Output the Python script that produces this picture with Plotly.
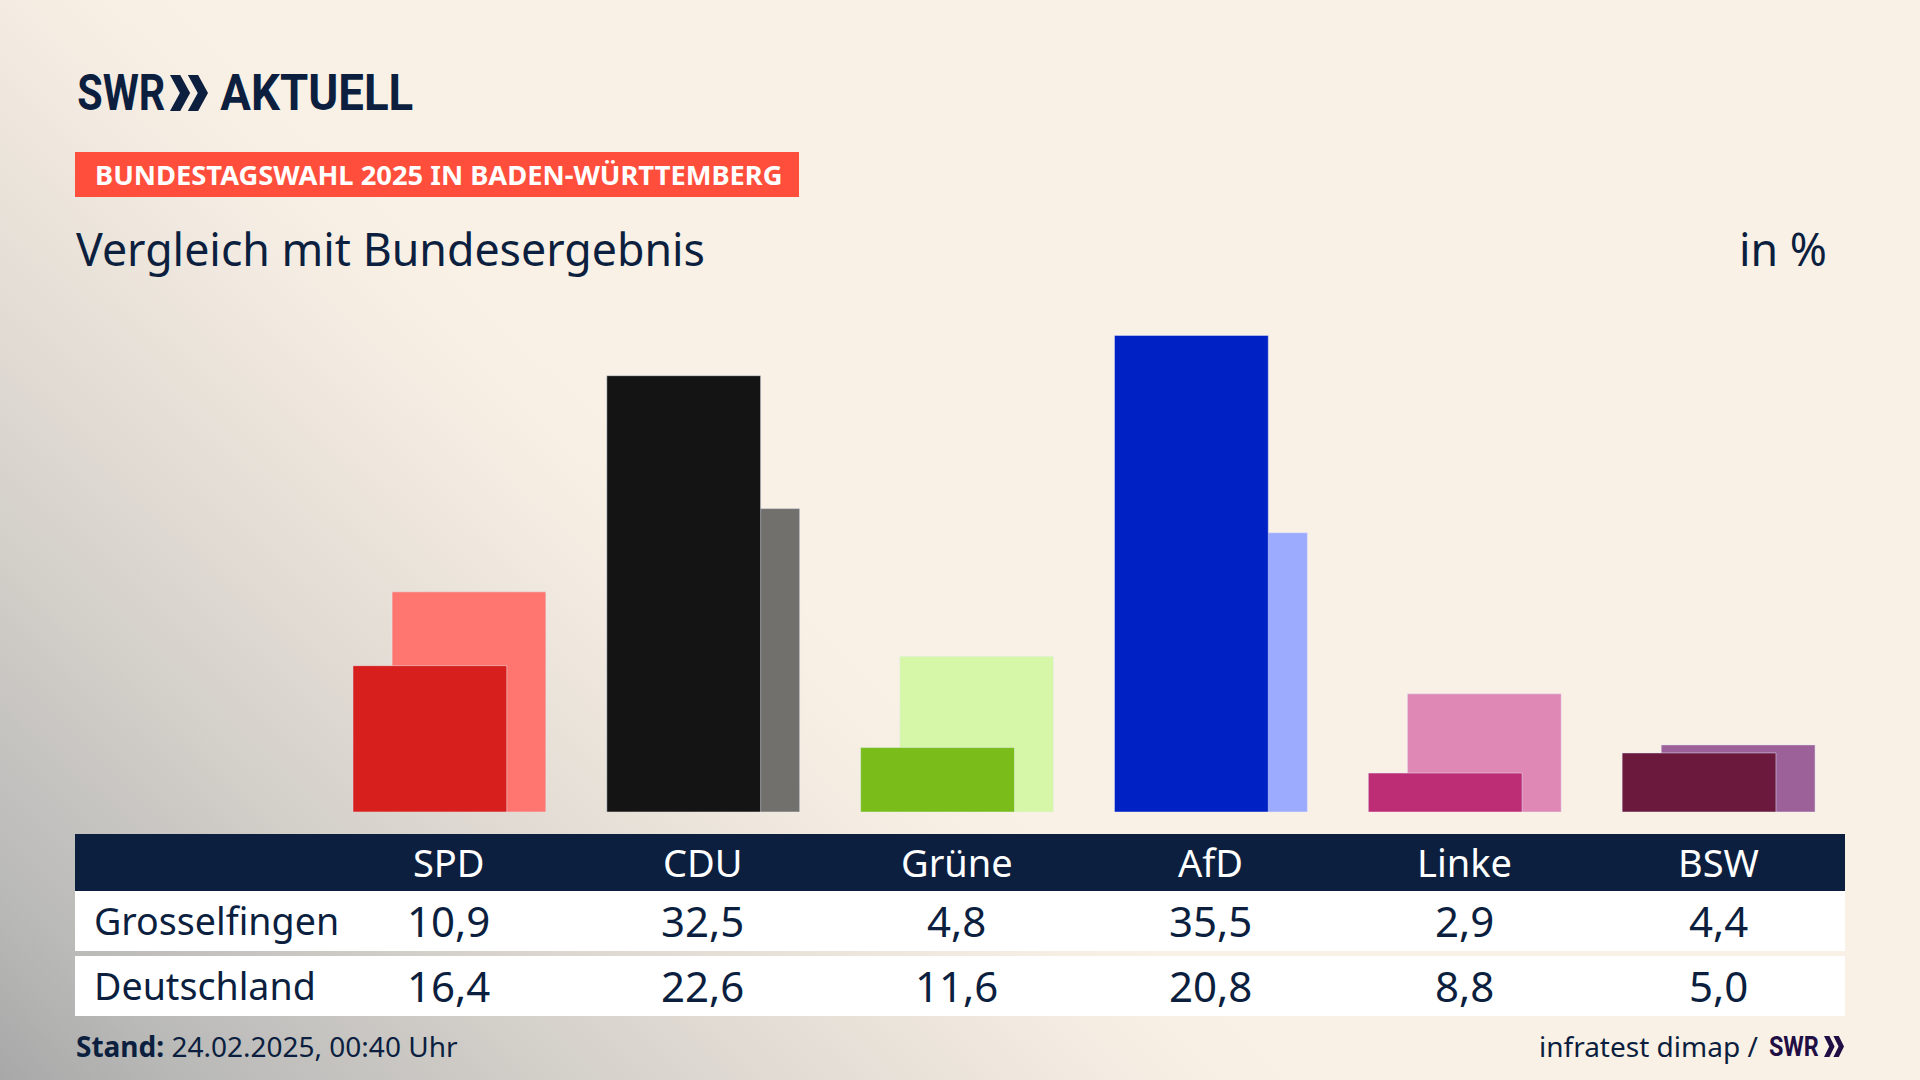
import base64
import plotly.graph_objects as go

# values from the table in the picture
parties = ['SPD', 'CDU', 'Grüne', 'AfD', 'Linke', 'BSW']
local_name = 'Grosselfingen'
national_name = 'Deutschland'
local_values = [10.9, 32.5, 4.8, 35.5, 2.9, 4.4]
national_values = [16.4, 22.6, 11.6, 20.8, 8.8, 5.0]
local_colors = ['#D7201D', '#141414', '#7ABD1A', '#0021C4', '#BD2D75', '#6B1A3E']
national_colors = ['#FF7570', '#72706D', '#D6F7A8', '#9DABFF', '#DF87B5', '#9C6199']

W, H = 1920, 1080
NAVY = '#0C1F3F'
PURPLE = '#1F0F45'
FONT = 'Noto Sans'
LOGO_FONT = 'Roboto'


def px(x):
    return x / W


def py(y):
    return 1 - y / H


def fmt(v):
    return f'{v:.1f}'.replace('.', ',')


def text(x, y, s, size, color=NAVY, anchor='left', xref='paper', bold=False, family=FONT):
    return dict(x=px(x) if xref == 'paper' else x, y=py(y), xref=xref, yref='paper',
                text=f'<b>{s}</b>' if bold else s, showarrow=False, xanchor=anchor, yanchor='middle',
                font=dict(family=family, size=size, color=color))


def rect(x0, y0, x1, y1, color):
    return dict(type='rect', xref='paper', yref='paper', x0=px(x0), x1=px(x1), y0=py(y1), y1=py(y0),
                fillcolor=color, line_width=0, layer='below')


def chevrons(x, y, w, h, color):
    # the two arrows of the SWR logo
    path = ''
    for i in range(2):
        left = x + i * w * 0.47
        tip = left + w * 0.53
        thick = w * 0.27
        path += (f'M{px(left)},{py(y)} L{px(left + thick)},{py(y)} L{px(tip)},{py(y + h / 2)} '
                 f'L{px(left + thick)},{py(y + h)} L{px(left)},{py(y + h)} L{px(tip - thick)},{py(y + h / 2)} Z ')
    return dict(type='path', xref='paper', yref='paper', path=path, fillcolor=color, line_width=0)


# backdrop, warm beige running into grey towards the bottom left corner
svg = f'''<svg xmlns="http://www.w3.org/2000/svg" width="{W}" height="{H}">
<defs><linearGradient id="g" gradientUnits="userSpaceOnUse" x1="0" y1="{H}" x2="626" y2="431">
<stop offset="0" stop-color="#a8a8a8"/><stop offset="0.15" stop-color="#b9b9b8"/>
<stop offset="0.44" stop-color="#d4d0ca"/><stop offset="0.62" stop-color="#e2dcd4"/>
<stop offset="0.85" stop-color="#f3ebe1"/><stop offset="1" stop-color="#faf1e6"/></linearGradient></defs>
<rect width="{W}" height="{H}" fill="url(#g)"/></svg>'''
bg = 'data:image/svg+xml;base64,' + base64.b64encode(svg.encode()).decode()

fig = go.Figure()
fig.add_trace(go.Bar(x=parties, y=national_values, name=national_name, marker_color=national_colors,
                     width=0.606, offset=-0.224, hoverinfo='x+y'))
fig.add_trace(go.Bar(x=parties, y=local_values, name=local_name, marker_color=local_colors,
                     width=0.606, offset=-0.378, hoverinfo='x+y'))

annotations = [
    text(121, 93, 'SWR', 50, anchor='center', bold=True, family=LOGO_FONT),
    text(316.5, 93, 'AKTUELL', 50, anchor='center', bold=True, family=LOGO_FONT),
    text(92.5, 175, 'BUNDESTAGSWAHL 2025 IN BADEN-WÜRTTEMBERG', 27.3, color='white', bold=True),
    text(74, 248, 'Vergleich mit Bundesergebnis', 44.7),
    text(1829, 248, 'in %', 44.7, anchor='right'),
    text(92, 920, local_name, 37.6),
    text(92, 985, national_name, 37.6),
    text(74, 1046, '<b>Stand:</b> 24.02.2025, 00:40 Uhr', 28),
    text(1760, 1046, 'infratest dimap /', 28, anchor='right'),
    text(1794, 1046, 'SWR', 28, color=PURPLE, anchor='center', bold=True, family=LOGO_FONT),
]
for i, party in enumerate(parties):
    annotations.append(text(party, 862, party, 38, color='white', anchor='center', xref='x'))
    annotations.append(text(party, 920, fmt(local_values[i]), 42, anchor='center', xref='x'))
    annotations.append(text(party, 985, fmt(national_values[i]), 42, anchor='center', xref='x'))

shapes = [
    rect(75, 152, 799, 197, '#FF4F3C'),
    rect(75, 834, 1845, 891, NAVY),
    rect(75, 891, 1845, 951, 'white'),
    rect(75, 956, 1845, 1016, 'white'),
    chevrons(170, 75, 38, 36, NAVY),
    chevrons(1824, 1036, 20, 21, PURPLE),
]

fig.update_layout(
    width=W, height=H, margin=dict(l=0, r=0, t=0, b=0), barmode='overlay', showlegend=False,
    paper_bgcolor='#FAF1E6', plot_bgcolor='rgba(0,0,0,0)',
    xaxis=dict(domain=[px(322), px(1845)], range=[-0.5, 5.5], visible=False,
               categoryorder='array', categoryarray=parties),
    yaxis=dict(domain=[py(812), py(275)], range=[0, 40], visible=False),
    annotations=annotations, shapes=shapes,
    images=[dict(source=bg, xref='paper', yref='paper', x=0, y=1, sizex=1, sizey=1,
                 sizing='stretch', layer='below')],
)

# the logo lettering is condensed, no such font here, so squeeze the words to their width
squeeze = """
document.body.style.margin='0';document.body.style.overflow='hidden';
var wanted={'SWR':null,'AKTUELL':193};
document.querySelectorAll('.annotation-text').forEach(function(t){
  var s=t.textContent;
  if(!(s in wanted))return;
  var size=parseFloat(t.style.fontSize);
  var w=s==='SWR'?(size>40?88:50):wanted[s];
  var k=w/t.getBBox().width,x=parseFloat(t.getAttribute('x'));
  t.setAttribute('transform','matrix('+k+',0,0,1,'+x*(1-k)+',0)');
});
"""
fig.write_html('out.html', config=dict(displayModeBar=False), post_script=squeeze)
